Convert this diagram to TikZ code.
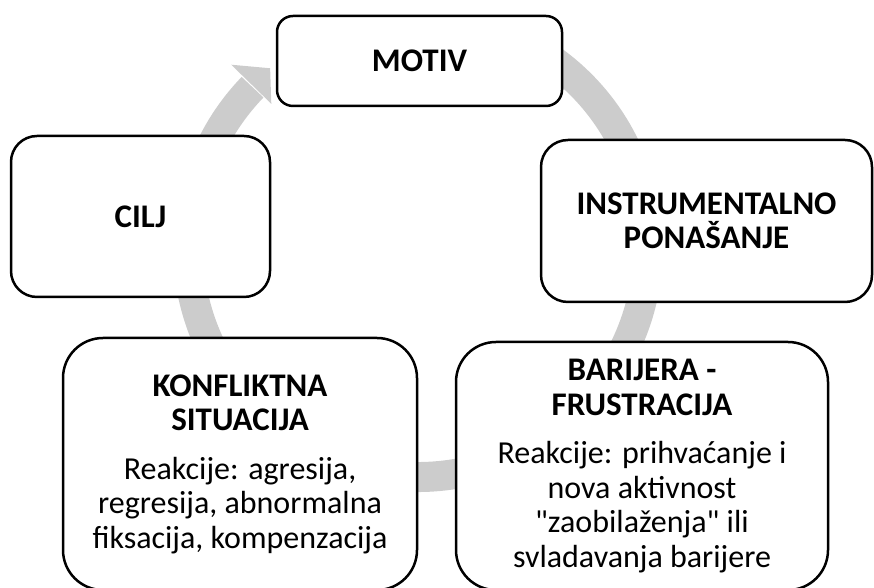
\documentclass[tikz,border=0pt]{standalone}
\usepackage{fontspec}
\setmainfont{Carlito}[Ligatures=TeXOff]
\definecolor{ringgray}{RGB}{204,204,204}
\newcommand{\hd}{\fontsize{33}{36.5}\selectfont\bfseries}

\begin{document}
\begin{tikzpicture}[x=1pt,y=1pt,
  stage/.style={draw=black, line width=2.5pt, fill=white, align=center, inner sep=0pt,
    font=\fontsize{32}{34.5}\selectfont},
  ring/.style={draw=ringgray, line width=30pt}]
\useasboundingbox (0,0) rectangle (874,588);
\coordinate (hub) at (418,341);
\draw [ring] ([shift={(60:230)}]hub) arc [start angle=60, end angle=-224, radius=230pt];
\fill [ringgray] ([shift={(135.7:261)}]hub) -- ([shift={(135.7:205)}]hub) -- ([shift={(129.6:232)}]hub) -- cycle;
\node [stage, minimum width=285pt, minimum height=90pt, rounded corners=16pt] (motiv) at (419.5,527) {\hd MOTIV};
\node [stage, minimum width=331pt, minimum height=162pt, rounded corners=27pt] (instr) at (706.5,367) {\hd INSTRUMENTALNO\\\hd PONAŠANJE};
\node [stage, minimum width=372pt, minimum height=248pt, rounded corners=40pt] (barijera) at (642,122)
  {\hd BARIJERA -\\\hd FRUSTRACIJA\\[14pt]Reakcije: prihvaćanje i\\nova aktivnost\\"zaobilaženja" ili\\svladavanja barijere};
\node [stage, minimum width=354pt, minimum height=252pt, rounded corners=40pt] (konflikt) at (240,124)
  {\hd KONFLIKTNA\\\hd SITUACIJA\\[14pt]Reakcije: agresija,\\regresija, abnormalna\\fiksacija, kompenzacija};
\node [stage, minimum width=259pt, minimum height=161pt, rounded corners=26pt] (cilj) at (140.5,371.5) {\hd CILJ};
\end{tikzpicture}
\end{document}
